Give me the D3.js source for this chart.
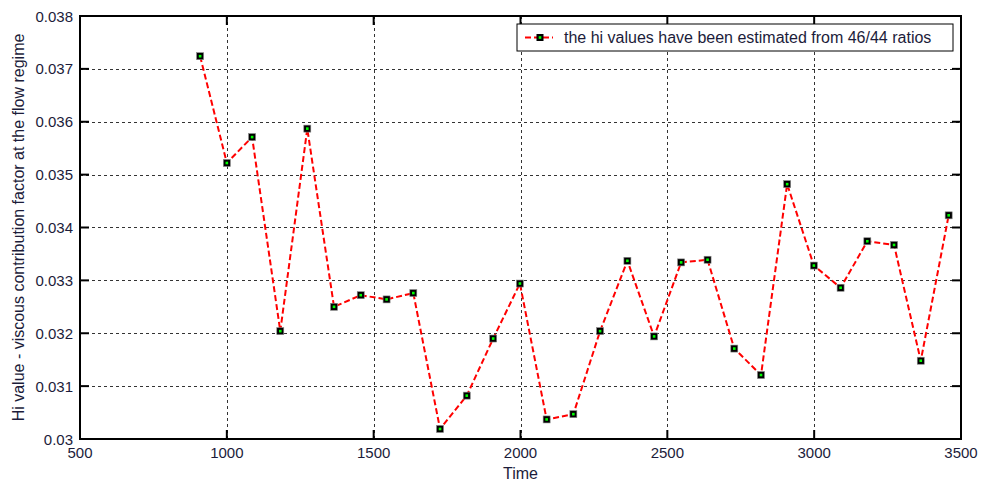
<!DOCTYPE html>
<html>
<head>
<meta charset="utf-8">
<script src="https://cdn.jsdelivr.net/npm/d3@7"></script>
<style>
  body { margin: 0; background: #fff; }
  svg text { font-family: "Liberation Sans", Arial, sans-serif; fill: #1c1c3a; }
</style>
</head>
<body>
<div id="chart"></div>
<script>
const tiempos = [909, 1000, 1086, 1182, 1274, 1365, 1456, 1544, 1635, 1726, 1817, 1907, 1998, 2089,
  2180, 2271, 2364, 2455, 2547, 2637, 2728, 2819, 2908, 2999, 3090, 3181, 3272, 3363, 3458];

const valoresHi = [0.03724, 0.03522, 0.03571, 0.03204, 0.03587, 0.03250, 0.03272, 0.03264, 0.03276,
  0.03019, 0.03082, 0.03190, 0.03294, 0.03037, 0.03047, 0.03204, 0.03337, 0.03194, 0.03334, 0.03339,
  0.03171, 0.03121, 0.03482, 0.03328, 0.03286, 0.03374, 0.03367, 0.03148, 0.03423];

const ticksX = [500, 1000, 1500, 2000, 2500, 3000, 3500];
const ticksY = [0.030, 0.031, 0.032, 0.033, 0.034, 0.035, 0.036, 0.037, 0.038];
const etiquetasY = ["0.03", "0.031", "0.032", "0.033", "0.034", "0.035", "0.036", "0.037", "0.038"];

const textoLeyenda = "the hi values have been estimated from 46/44 ratios";

const width = 983, height = 483;
const margen = { top: 16, right: 22, bottom: 44, left: 80 };

const svg = d3.select("#chart").append("svg")
  .attr("width", width)
  .attr("height", height);

const x = d3.scaleLinear().domain([500, 3500]).range([margen.left, width - margen.right]);
const y = d3.scaleLinear().domain([0.030, 0.038]).range([height - margen.bottom, margen.top]);

const [x0, x1] = x.range();
const [y0, y1] = y.range();

// rejilla punteada
const rejilla = svg.append("g")
  .attr("stroke", "#333")
  .attr("stroke-width", 1)
  .attr("stroke-dasharray", "3,3");

rejilla.selectAll(".gx")
  .data(ticksX.slice(1, -1))
  .join("line")
  .attr("x1", d => Math.round(x(d)) + 0.5)
  .attr("x2", d => Math.round(x(d)) + 0.5)
  .attr("y1", y1)
  .attr("y2", y0);

rejilla.selectAll(".gy")
  .data(ticksY.slice(1, -1))
  .join("line")
  .attr("y1", d => Math.round(y(d)) + 0.5)
  .attr("y2", d => Math.round(y(d)) + 0.5)
  .attr("x1", x0)
  .attr("x2", x1);

// ejes con ticks hacia adentro
const largoTick = 9;
const ejes = svg.append("g")
  .attr("stroke", "#000")
  .attr("stroke-width", 2);

ejes.selectAll(".tb")
  .data(ticksX)
  .join("line")
  .attr("x1", d => x(d)).attr("x2", d => x(d))
  .attr("y1", y0).attr("y2", y0 - largoTick);

ejes.selectAll(".tt")
  .data(ticksX)
  .join("line")
  .attr("x1", d => x(d)).attr("x2", d => x(d))
  .attr("y1", y1).attr("y2", y1 + largoTick);

ejes.selectAll(".tl")
  .data(ticksY)
  .join("line")
  .attr("y1", d => y(d)).attr("y2", d => y(d))
  .attr("x1", x0).attr("x2", x0 + largoTick);

ejes.selectAll(".tr")
  .data(ticksY)
  .join("line")
  .attr("y1", d => y(d)).attr("y2", d => y(d))
  .attr("x1", x1).attr("x2", x1 - largoTick);

svg.append("rect")
  .attr("x", x0).attr("y", y1)
  .attr("width", x1 - x0).attr("height", y0 - y1)
  .attr("fill", "none")
  .attr("stroke", "#000")
  .attr("stroke-width", 2);

// etiquetas de ticks
svg.append("g").selectAll("text")
  .data(ticksX)
  .join("text")
  .attr("x", d => x(d))
  .attr("y", y0 + 19)
  .attr("text-anchor", "middle")
  .style("font-size", "15px")
  .text(d => d);

svg.append("g").selectAll("text")
  .data(ticksY)
  .join("text")
  .attr("x", x0 - 7)
  .attr("y", d => y(d) + 5.5)
  .attr("text-anchor", "end")
  .style("font-size", "15px")
  .text((d, i) => etiquetasY[i]);

svg.append("text")
  .attr("x", (x0 + x1) / 2)
  .attr("y", 479)
  .attr("text-anchor", "middle")
  .style("font-size", "16px")
  .text("Time");

svg.append("text")
  .attr("transform", `translate(24,${(y0 + y1) / 2}) rotate(-90)`)
  .attr("text-anchor", "middle")
  .style("font-size", "16px")
  .text("Hi value - viscous contribution factor at the flow regime");

// serie
const puntos = tiempos.map((t, i) => ({ t, v: valoresHi[i] }));

const linea = d3.line()
  .x(d => x(d.t))
  .y(d => y(d.v));

svg.append("path")
  .datum(puntos)
  .attr("d", linea)
  .attr("fill", "none")
  .attr("stroke", "#ff0000")
  .attr("stroke-width", 2)
  .attr("stroke-dasharray", "6,3");

const marcas = svg.append("g").selectAll("g")
  .data(puntos)
  .join("g")
  .attr("transform", d => `translate(${x(d.t)},${y(d.v)})`);

marcas.append("rect")
  .attr("x", -3.5).attr("y", -3.5)
  .attr("width", 7).attr("height", 7)
  .attr("fill", "#000")
  .attr("stroke", "#888")
  .attr("stroke-width", 0.6);

marcas.append("rect")
  .attr("x", -1.3).attr("y", -1.3)
  .attr("width", 2.6).attr("height", 2.6)
  .attr("fill", "#00ff00");

// leyenda
const leyenda = svg.append("g").attr("transform", "translate(517,24)");

leyenda.append("rect")
  .attr("width", 436).attr("height", 27)
  .attr("fill", "#fff")
  .attr("stroke", "#000")
  .attr("stroke-width", 1);

leyenda.append("line")
  .attr("x1", 8).attr("x2", 36)
  .attr("y1", 13.5).attr("y2", 13.5)
  .attr("stroke", "#ff0000")
  .attr("stroke-width", 2)
  .attr("stroke-dasharray", "6,3");

leyenda.append("rect")
  .attr("x", 23 - 3.5).attr("y", 13.5 - 3.5)
  .attr("width", 7).attr("height", 7)
  .attr("fill", "#000");

leyenda.append("rect")
  .attr("x", 23 - 1.3).attr("y", 13.5 - 1.3)
  .attr("width", 2.6).attr("height", 2.6)
  .attr("fill", "#00ff00");

leyenda.append("text")
  .attr("x", 47)
  .attr("y", 19)
  .style("font-size", "16px")
  .text(textoLeyenda);
</script>
</body>
</html>
